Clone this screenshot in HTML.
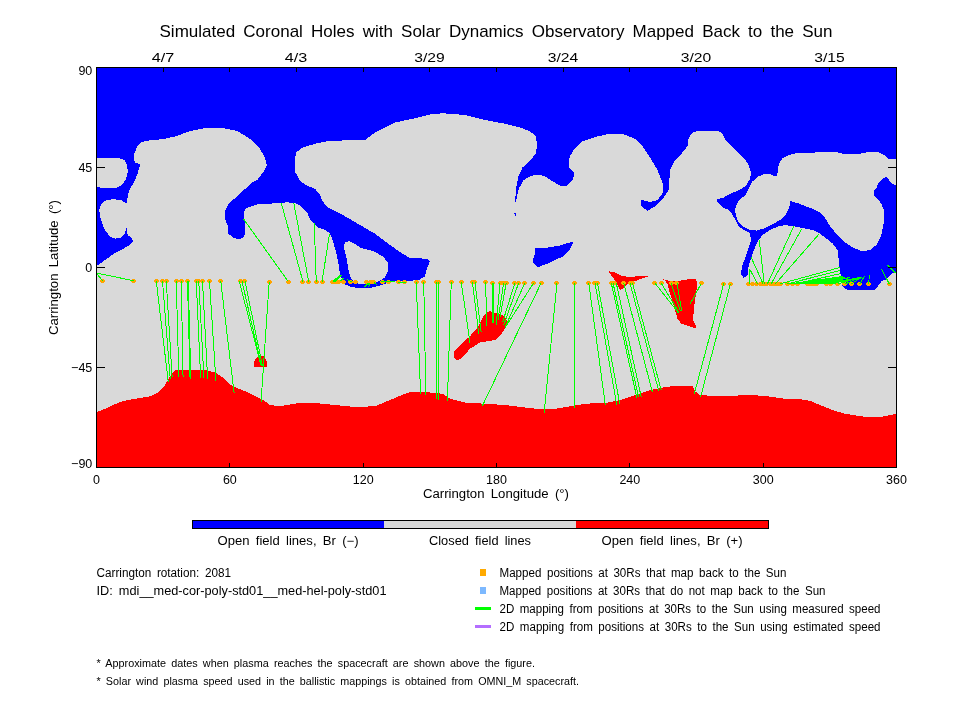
<!DOCTYPE html>
<html><head><meta charset="utf-8"><title>Simulated Coronal Holes</title>
<style>html,body{margin:0;padding:0;background:#fff}svg{display:block}text{font-family:"Liberation Sans",sans-serif;fill:#000}</style></head><body>
<svg width="960" height="720" viewBox="0 0 960 720">
<rect width="960" height="720" fill="#fff"/>
<defs><clipPath id="c"><rect x="96" y="67" width="801" height="401"/></clipPath></defs>
<rect x="96" y="67" width="801" height="401" fill="#d9d9d9"/>
<g clip-path="url(#c)" shape-rendering="crispEdges">
<polygon fill="#0000ff" points="96,67 897,67 897,272 891.7,273.75 889,276.5 885.8,279.5 881.7,281 878,286 875,289.5 860,290 847.5,290 842.5,286.25 842,280 840,272.5 838.75,260 837.5,250 832.5,243.5 825,237.5 820,233.75 812.5,230 802.5,228.1 795,226.5 788.75,225.6 786.25,224.75 778.75,226.25 770,230 762.5,235 758.75,240 756.25,244 752.5,253.75 748.75,265 747.5,275 743.75,278 740.75,273.75 742.5,265 746.25,255 750,244 751.25,240 749.4,232.5 743.75,230 738.75,226.25 735,219.4 731.9,213.75 728.1,209.4 723.75,208.1 720,205 716.9,201.25 717.5,199.4 723.75,197.5 728.75,194.4 735,191.9 741.25,188.75 746.25,185.6 750,178.75 751,172.5 748.75,165 745,159.4 735.6,150 732.5,147 726.25,141.25 722.5,133.75 717.5,130.5 700,130.5 692.5,132.5 688.75,137.5 687.5,146.25 682.5,152.5 675,160 670,170 668.75,190 663.75,197.5 655,206.25 647.5,210.75 641.25,206.25 640.75,199.5 650,202 657.5,200 663,192.5 662.5,182.5 657.5,170 650,157.5 642.5,146.25 635,138.75 623.75,134.25 607.5,134.25 595,137 582.5,141.25 573.75,150 570,156.25 569,160 569,168 574,172 574,176 573,179 570,182.5 566.25,186.25 560,185.75 552.5,181.25 545,176.25 537.5,174.5 530,176.25 523.75,180 518.75,188.75 516.25,200 515,203 515,202.5 516.25,187.5 518.75,175 522.5,167.5 530,161 535.5,153.75 537.5,145 535.5,136 530,131.25 520,127.5 505,123.75 485,120 465,115 442.5,113.25 430,114.5 412.5,118.75 395,122.5 375,132.5 365,140 330,140.75 315,143.75 302.5,147.5 296,152.5 295,160 295.5,172.5 300,181 307.5,186 315,188.75 320,195 322.5,201 326,206 330,208.75 345,216.25 360,225 375,233.75 390,245 402.5,253.75 410,258 427.5,258.75 430,261.25 426.9,268.75 425,276.25 418.75,280 407.5,281 395,281.5 385,283.75 377.5,286.25 370,288.1 361.25,288.5 351.25,286.9 345,284.4 343,280 340,275 338.75,265 336.25,252.5 332.5,240 330,233.5 324.75,230 318.5,227.5 313.5,223.1 309.75,218.75 307.25,212.5 301,206.25 296,203.5 287.25,202.25 278.5,203.1 268.5,203.75 257.25,204.4 252.25,206.25 246,208.1 243.75,212.5 243.75,218.75 245.4,222.5 245.4,232.5 243.5,237.5 239.1,239.4 233.5,237.5 228.5,233.75 227.9,226.25 225.4,220 225.4,210 228.5,203.75 232.25,200.6 237.25,196.25 242.25,191.25 248.5,186.25 252.25,182.5 257.25,180 261,175 264.75,170 266.75,165 265,157.5 260,149 250,139 237.5,131 222.5,128 205,128 190,131 176,136.3 162.7,139.2 146,140.8 141,142.5 137.7,145.8 134.3,153.3 133.5,158.3 135.2,162.5 140.2,164.2 137.7,173.3 133.5,183.3 129.3,190 127.7,196.7 126.8,201.7 126.8,228.3 127.7,235 131.8,238.3 133,240.8 131,244.2 122.7,249.2 115,253 105,260 96,266.5"/>
<polygon fill="#0000ff" points="535.25,247.6 547,247.6 559.7,245.5 567.8,243.1 573.5,241.2 570.5,248.5 566,253.5 562.4,256.7 548.8,263 538,267.2 532.5,261.7 535.25,253"/>
<polygon fill="#0000ff" points="514.3,213.2 516.5,213.2 515.6,215.5 515,215.5"/>
<polygon fill="#d9d9d9" points="96,157.5 117.7,157.5 124.3,160 127.3,165 127.7,171.7 126,179.2 121.8,185 116,188.3 104.3,188 96,187"/>
<polygon fill="#d9d9d9" points="101,205 104.3,200.8 112.7,199.2 121,200 126,203.3 129,203.3 129,229 126.5,228.3 124.3,234.2 121,237.5 115.2,238.7 110.2,236.7 106,231.7 102.7,225 100.2,216.7 99.3,210"/>
<polygon fill="#d9d9d9" points="343.75,246.25 345,242.5 348.75,241 353.75,243.1 361.25,248.1 373.75,251.25 382.5,256.25 388.1,262.5 388.5,270 385,277.5 380,280.6 372,283.5 361.25,284.4 356.25,283 351.25,278.75 348.75,271.25 346.9,260 345,252.5"/>
<polygon fill="#d9d9d9" points="897,159.25 889,159 886,156.2 882.5,154.4 879,152.25 867.6,152.25 858.9,153.8 844,154 836.5,152.25 825,151.9 815,152.5 795,153.5 788.75,155 782.5,158.1 780,161.9 778.1,166.9 777.25,175.6 773.1,175.6 771.25,174.4 763.75,174.4 758.75,176.25 755,179.4 751.9,181.9 750,186.25 747.5,191.25 745,195.6 740,199.4 736.9,203.75 735.25,208.75 735.6,215 738.1,221.25 742.5,226.25 748.75,229.4 756.25,230.6 763.75,228.5 772.5,224.4 780,220 785,215.6 788.1,210 790,205 790.25,201 797.5,203.1 805,206 812.5,208.75 818.75,211.9 823.1,215 825,218 830,226.25 837.5,235 845,242.5 852.5,247.5 862.5,251.25 870,250 876.25,245 881.25,235 883.75,222.5 883.75,210 881.5,204 878.5,200 877.25,198.2 874.2,196 874.2,190.3 876.4,188.1 879,182 883.4,177.8 886.7,177.2 891.25,182.9 897,186.2"/>
<polygon fill="#ff0000" points="96,412.5 105,408.75 120,402 127.5,400 150,396.25 157.5,392.5 165,385 170,376.25 175,370 190,369.5 205,370 215,372.5 222.5,377.5 232.5,386.25 245,391.25 255,396.25 265,401.25 270,405 280,406.25 290,404.5 302.5,402.5 317.5,402.5 320,403.75 330,404.5 355,407 375,406.25 390,400 405,393.75 410,392 430,392.5 442.5,393.75 450,398.75 465,402.5 485,403.75 505,405 525,407.5 542.5,409.5 555,408.75 570,406.25 585,403.75 607.5,402.5 620,400 635,395 650,390 665,387 677.5,385.75 692.5,386.25 695,391.25 700,395 720,396.5 732.5,395.75 750,395 765,396 782.5,398.5 800,399.25 810,400.75 820,405 832.5,410 845,413.75 860,416.25 875,417.5 885,416.25 896,413.75 897,469 96,469"/>
<polygon fill="#ff0000" points="253.8,367 253.8,363 255,359.5 257.5,356.8 260.5,355.3 263.5,356 265.5,358.5 266.8,362 267,367"/>
<polygon fill="#ff0000" points="490,311.25 502.5,315 508,321.25 507,325 502.5,332.5 495,340 480,342.5 470,348.75 462.5,357.5 457.5,360.5 454.25,357.5 454.25,351.25 460,345 470,336.25 477.5,327.5 482.5,317.5 486.25,312.5"/>
<polygon fill="#ff0000" points="608.75,271.25 615,272.5 621.25,275.6 627.5,276.9 640,276.25 650,276 641.25,278.75 635,281.25 627.5,284.5 623.75,288.1 620,290 617.5,285 613.75,278.75 610,273.75"/>
<polygon fill="#ff0000" points="661.9,278.75 668.1,280.6 674,281.5 680,280.6 687.5,279.4 696.25,279 697.25,285 695.6,296.25 693.75,310 693.1,320 695.6,325 696,328.5 687.5,325.6 681.25,323.75 677.5,318.75 675.6,312.5 672.5,301.25 669.4,291.25 667.5,283.75 665,280.6"/>
</g>
<g fill="#ffa500" shape-rendering="crispEdges">
<path d="M101 279h3v1h1v2h-1v1h-3v-1h-1v-2h1z"/>
<path d="M132 279h3v1h1v2h-1v1h-3v-1h-1v-2h1z"/>
<path d="M155 279h3v1h1v2h-1v1h-3v-1h-1v-2h1z"/>
<path d="M161 279h3v1h1v2h-1v1h-3v-1h-1v-2h1z"/>
<path d="M165 279h3v1h1v2h-1v1h-3v-1h-1v-2h1z"/>
<path d="M175 279h3v1h1v2h-1v1h-3v-1h-1v-2h1z"/>
<path d="M180 279h3v1h1v2h-1v1h-3v-1h-1v-2h1z"/>
<path d="M186 279h3v1h1v2h-1v1h-3v-1h-1v-2h1z"/>
<path d="M195 279h3v1h1v2h-1v1h-3v-1h-1v-2h1z"/>
<path d="M197 279h3v1h1v2h-1v1h-3v-1h-1v-2h1z"/>
<path d="M201 279h3v1h1v2h-1v1h-3v-1h-1v-2h1z"/>
<path d="M208 279h3v1h1v2h-1v1h-3v-1h-1v-2h1z"/>
<path d="M219 279h3v1h1v2h-1v1h-3v-1h-1v-2h1z"/>
<path d="M239 279h3v1h1v2h-1v1h-3v-1h-1v-2h1z"/>
<path d="M243 279h3v1h1v2h-1v1h-3v-1h-1v-2h1z"/>
<path d="M268 280h3v1h1v2h-1v1h-3v-1h-1v-2h1z"/>
<path d="M287 280h3v1h1v2h-1v1h-3v-1h-1v-2h1z"/>
<path d="M301 280h3v1h1v2h-1v1h-3v-1h-1v-2h1z"/>
<path d="M307 280h3v1h1v2h-1v1h-3v-1h-1v-2h1z"/>
<path d="M315 280h3v1h1v2h-1v1h-3v-1h-1v-2h1z"/>
<path d="M321 280h3v1h1v2h-1v1h-3v-1h-1v-2h1z"/>
<path d="M331 280h3v1h1v2h-1v1h-3v-1h-1v-2h1z"/>
<path d="M334 280h3v1h1v2h-1v1h-3v-1h-1v-2h1z"/>
<path d="M337 280h3v1h1v2h-1v1h-3v-1h-1v-2h1z"/>
<path d="M342 280h3v1h1v2h-1v1h-3v-1h-1v-2h1z"/>
<path d="M349 280h3v1h1v2h-1v1h-3v-1h-1v-2h1z"/>
<path d="M354 280h3v1h1v2h-1v1h-3v-1h-1v-2h1z"/>
<path d="M365 280h3v1h1v2h-1v1h-3v-1h-1v-2h1z"/>
<path d="M369 280h3v1h1v2h-1v1h-3v-1h-1v-2h1z"/>
<path d="M372 280h3v1h1v2h-1v1h-3v-1h-1v-2h1z"/>
<path d="M381 280h3v1h1v2h-1v1h-3v-1h-1v-2h1z"/>
<path d="M387 280h3v1h1v2h-1v1h-3v-1h-1v-2h1z"/>
<path d="M397 280h3v1h1v2h-1v1h-3v-1h-1v-2h1z"/>
<path d="M403 280h3v1h1v2h-1v1h-3v-1h-1v-2h1z"/>
<path d="M415 280h3v1h1v2h-1v1h-3v-1h-1v-2h1z"/>
<path d="M422 280h3v1h1v2h-1v1h-3v-1h-1v-2h1z"/>
<path d="M435 280h3v1h1v2h-1v1h-3v-1h-1v-2h1z"/>
<path d="M437 280h3v1h1v2h-1v1h-3v-1h-1v-2h1z"/>
<path d="M450 280h3v1h1v2h-1v1h-3v-1h-1v-2h1z"/>
<path d="M460 280h3v1h1v2h-1v1h-3v-1h-1v-2h1z"/>
<path d="M471 280h3v1h1v2h-1v1h-3v-1h-1v-2h1z"/>
<path d="M473 280h3v1h1v2h-1v1h-3v-1h-1v-2h1z"/>
<path d="M484 280h3v1h1v2h-1v1h-3v-1h-1v-2h1z"/>
<path d="M491 281h3v1h1v2h-1v1h-3v-1h-1v-2h1z"/>
<path d="M499 281h3v1h1v2h-1v1h-3v-1h-1v-2h1z"/>
<path d="M502 281h3v1h1v2h-1v1h-3v-1h-1v-2h1z"/>
<path d="M505 281h3v1h1v2h-1v1h-3v-1h-1v-2h1z"/>
<path d="M513 281h3v1h1v2h-1v1h-3v-1h-1v-2h1z"/>
<path d="M517 281h3v1h1v2h-1v1h-3v-1h-1v-2h1z"/>
<path d="M523 281h3v1h1v2h-1v1h-3v-1h-1v-2h1z"/>
<path d="M532 281h3v1h1v2h-1v1h-3v-1h-1v-2h1z"/>
<path d="M540 281h3v1h1v2h-1v1h-3v-1h-1v-2h1z"/>
<path d="M555 281h3v1h1v2h-1v1h-3v-1h-1v-2h1z"/>
<path d="M573 281h3v1h1v2h-1v1h-3v-1h-1v-2h1z"/>
<path d="M587 281h3v1h1v2h-1v1h-3v-1h-1v-2h1z"/>
<path d="M593 281h3v1h1v2h-1v1h-3v-1h-1v-2h1z"/>
<path d="M596 281h3v1h1v2h-1v1h-3v-1h-1v-2h1z"/>
<path d="M610 281h3v1h1v2h-1v1h-3v-1h-1v-2h1z"/>
<path d="M613 281h3v1h1v2h-1v1h-3v-1h-1v-2h1z"/>
<path d="M622 281h3v1h1v2h-1v1h-3v-1h-1v-2h1z"/>
<path d="M629 281h3v1h1v2h-1v1h-3v-1h-1v-2h1z"/>
<path d="M631 281h3v1h1v2h-1v1h-3v-1h-1v-2h1z"/>
<path d="M653 281h3v1h1v2h-1v1h-3v-1h-1v-2h1z"/>
<path d="M660 281h3v1h1v2h-1v1h-3v-1h-1v-2h1z"/>
<path d="M670 281h3v1h1v2h-1v1h-3v-1h-1v-2h1z"/>
<path d="M675 281h3v1h1v2h-1v1h-3v-1h-1v-2h1z"/>
<path d="M700 281h3v1h1v2h-1v1h-3v-1h-1v-2h1z"/>
<path d="M722 282h3v1h1v2h-1v1h-3v-1h-1v-2h1z"/>
<path d="M729 282h3v1h1v2h-1v1h-3v-1h-1v-2h1z"/>
<path d="M747 282h3v1h1v2h-1v1h-3v-1h-1v-2h1z"/>
<path d="M755 282h3v1h1v2h-1v1h-3v-1h-1v-2h1z"/>
<path d="M762 282h3v1h1v2h-1v1h-3v-1h-1v-2h1z"/>
<path d="M769 282h3v1h1v2h-1v1h-3v-1h-1v-2h1z"/>
<path d="M773 282h3v1h1v2h-1v1h-3v-1h-1v-2h1z"/>
<path d="M779 282h3v1h1v2h-1v1h-3v-1h-1v-2h1z"/>
<path d="M786 282h3v1h1v2h-1v1h-3v-1h-1v-2h1z"/>
<path d="M791 282h3v1h1v2h-1v1h-3v-1h-1v-2h1z"/>
<path d="M796 282h3v1h1v2h-1v1h-3v-1h-1v-2h1z"/>
<path d="M806 282h3v1h1v2h-1v1h-3v-1h-1v-2h1z"/>
<path d="M812 282h3v1h1v2h-1v1h-3v-1h-1v-2h1z"/>
<path d="M815 282h3v1h1v2h-1v1h-3v-1h-1v-2h1z"/>
<path d="M825 282h3v1h1v2h-1v1h-3v-1h-1v-2h1z"/>
<path d="M829 282h3v1h1v2h-1v1h-3v-1h-1v-2h1z"/>
<path d="M836 282h3v1h1v2h-1v1h-3v-1h-1v-2h1z"/>
<path d="M843 282h3v1h1v2h-1v1h-3v-1h-1v-2h1z"/>
<path d="M850 282h3v1h1v2h-1v1h-3v-1h-1v-2h1z"/>
<path d="M858 282h3v1h1v2h-1v1h-3v-1h-1v-2h1z"/>
<path d="M867 282h3v1h1v2h-1v1h-3v-1h-1v-2h1z"/>
<path d="M888 282h3v1h1v2h-1v1h-3v-1h-1v-2h1z"/>
<path d="M751 282h3v1h1v2h-1v1h-3v-1h-1v-2h1z"/>
<path d="M759 282h3v1h1v2h-1v1h-3v-1h-1v-2h1z"/>
<path d="M765 282h3v1h1v2h-1v1h-3v-1h-1v-2h1z"/>
<path d="M771 282h3v1h1v2h-1v1h-3v-1h-1v-2h1z"/>
<path d="M776 282h3v1h1v2h-1v1h-3v-1h-1v-2h1z"/>
<path d="M809 282h3v1h1v2h-1v1h-3v-1h-1v-2h1z"/>
</g>
<g clip-path="url(#c)" stroke="#00ff00" stroke-width="1" fill="none" shape-rendering="crispEdges">
<line x1="96.25" y1="273" x2="133.75" y2="280.75"/>
<line x1="96.25" y1="273" x2="102.5" y2="280.75"/>
<line x1="243.75" y1="219.25" x2="288.25" y2="281.592"/>
<line x1="281.25" y1="203" x2="303" y2="281.659"/>
<line x1="293.75" y1="203" x2="308.75" y2="281.684"/>
<line x1="314.25" y1="223" x2="316.25" y2="281.718"/>
<line x1="329.5" y1="233.75" x2="322" y2="281.744"/>
<line x1="156.25" y1="280.998" x2="168.355" y2="382.479"/>
<line x1="162.5" y1="281.026" x2="170.236" y2="379.241"/>
<line x1="166.25" y1="281.043" x2="172.184" y2="377.494"/>
<line x1="176.25" y1="281.088" x2="178.831" y2="376.749"/>
<line x1="181.25" y1="281.111" x2="183.057" y2="376.749"/>
<line x1="187.5" y1="281.139" x2="190.079" y2="379.249"/>
<line x1="188.25" y1="281.142" x2="190.829" y2="379.249"/>
<line x1="196.25" y1="281.178" x2="200.636" y2="377.997"/>
<line x1="198.75" y1="281.189" x2="203.91" y2="377.996"/>
<line x1="202.5" y1="281.206" x2="207.658" y2="379.246"/>
<line x1="209.5" y1="281.238" x2="215.943" y2="380.994"/>
<line x1="220.75" y1="281.288" x2="234.106" y2="392.979"/>
<line x1="239.25" y1="281.372" x2="261.25" y2="366.25"/>
<line x1="242" y1="281.384" x2="261.5" y2="366.25"/>
<line x1="245" y1="281.397" x2="262.5" y2="366.25"/>
<line x1="269.25" y1="281.507" x2="261.046" y2="401.743"/>
<line x1="416.25" y1="282.168" x2="420.617" y2="394.248"/>
<line x1="423.75" y1="282.202" x2="425.805" y2="395"/>
<line x1="436.25" y1="282.258" x2="436.25" y2="399.25"/>
<line x1="438.75" y1="282.269" x2="438.75" y2="400"/>
<line x1="451.25" y1="282.326" x2="447.403" y2="400.998"/>
<line x1="461.25" y1="282.371" x2="470" y2="342.5"/>
<line x1="472.5" y1="282.421" x2="478.75" y2="333.75"/>
<line x1="475" y1="282.433" x2="481.25" y2="332.5"/>
<line x1="485.5" y1="282.48" x2="487" y2="326"/>
<line x1="492.5" y1="282.511" x2="492" y2="325"/>
<line x1="493.5" y1="282.516" x2="493" y2="325"/>
<line x1="500" y1="282.545" x2="496.25" y2="325"/>
<line x1="503.75" y1="282.562" x2="498" y2="320"/>
<line x1="506.25" y1="282.573" x2="500" y2="317.5"/>
<line x1="515" y1="282.612" x2="502.5" y2="322.5"/>
<line x1="518.75" y1="282.629" x2="503.75" y2="325"/>
<line x1="525" y1="282.657" x2="505" y2="327.5"/>
<line x1="533.75" y1="282.697" x2="506.25" y2="326"/>
<line x1="541.25" y1="282.731" x2="482.456" y2="405.707"/>
<line x1="557" y1="282.801" x2="544.205" y2="412.486"/>
<line x1="574.5" y1="282.88" x2="574.5" y2="408"/>
<line x1="588.75" y1="282.944" x2="605.404" y2="405.473"/>
<line x1="595" y1="282.972" x2="616.777" y2="404.953"/>
<line x1="597.5" y1="282.984" x2="619.793" y2="404.201"/>
<line x1="611.25" y1="283.046" x2="636.904" y2="397.928"/>
<line x1="613" y1="283.053" x2="638.657" y2="397.427"/>
<line x1="616.25" y1="283.068" x2="641.142" y2="396.68"/>
<line x1="623.75" y1="283.102" x2="652.513" y2="392.401"/>
<line x1="630" y1="283.13" x2="658.774" y2="390.898"/>
<line x1="632.5" y1="283.141" x2="661.277" y2="390.398"/>
<line x1="655" y1="283.242" x2="678.1" y2="312.5"/>
<line x1="661.25" y1="283.271" x2="679" y2="312.5"/>
<line x1="671.25" y1="283.316" x2="680.5" y2="311.5"/>
<line x1="677" y1="283.341" x2="681.75" y2="311"/>
<line x1="701.25" y1="283.451" x2="690" y2="304.25"/>
<line x1="723.75" y1="283.552" x2="694.226" y2="394.149"/>
<line x1="730.5" y1="283.582" x2="700.485" y2="397.401"/>
<line x1="749.5" y1="268.75" x2="749.5" y2="283.668"/>
<line x1="749.5" y1="268.75" x2="757.5" y2="283.704"/>
<line x1="751.25" y1="257.5" x2="763" y2="283.728"/>
<line x1="759.25" y1="240" x2="764.25" y2="283.734"/>
<line x1="793.75" y1="226.25" x2="767.5" y2="283.749"/>
<line x1="801.75" y1="228.75" x2="771.25" y2="283.766"/>
<line x1="819.25" y1="233.75" x2="775.5" y2="283.785"/>
<line x1="840" y1="267.5" x2="780" y2="283.805"/>
<line x1="840" y1="270.5" x2="787.5" y2="283.839"/>
<line x1="840" y1="273.75" x2="795" y2="283.873"/>
<line x1="842.5" y1="276.25" x2="807.5" y2="283.929"/>
<line x1="845" y1="277" x2="813" y2="283.953"/>
<line x1="850" y1="277.5" x2="818" y2="283.976"/>
<line x1="860" y1="277.5" x2="825" y2="284.007"/>
<line x1="860" y1="277.5" x2="830" y2="284.03"/>
<line x1="860" y1="277.5" x2="837.5" y2="284.064"/>
<line x1="860" y1="277.5" x2="845" y2="284.097"/>
<line x1="862" y1="277" x2="851" y2="284.124"/>
<line x1="864.5" y1="276.25" x2="859.5" y2="284.163"/>
<line x1="869.25" y1="275" x2="868.75" y2="284.204"/>
<line x1="881.25" y1="268.75" x2="889.5" y2="284.298"/>
<line x1="887.5" y1="265" x2="896.5" y2="273.75"/>
<line x1="842.5" y1="276.5" x2="790" y2="283.85"/>
<line x1="842.5" y1="276.818" x2="794" y2="283.868"/>
<line x1="842.5" y1="277.136" x2="798" y2="283.886"/>
<line x1="842.5" y1="277.455" x2="802" y2="283.904"/>
<line x1="842.5" y1="277.773" x2="806" y2="283.922"/>
<line x1="842.5" y1="278.091" x2="810" y2="283.94"/>
<line x1="842.5" y1="278.409" x2="814" y2="283.958"/>
<line x1="842.5" y1="278.727" x2="818" y2="283.976"/>
<line x1="842.5" y1="279.045" x2="822" y2="283.994"/>
<line x1="842.5" y1="279.364" x2="826" y2="284.012"/>
<line x1="842.5" y1="279.682" x2="830" y2="284.03"/>
<line x1="842.5" y1="280" x2="834" y2="284.048"/>
<line x1="333" y1="281.5" x2="340.5" y2="274.5"/>
<line x1="334" y1="281.5" x2="341.5" y2="274.5"/>
<line x1="335" y1="281.5" x2="342.5" y2="274.5"/>
<line x1="340.5" y1="281" x2="343.75" y2="278"/>
<line x1="347" y1="279.5" x2="351.5" y2="282"/>
<line x1="363.75" y1="287" x2="369.4" y2="282.5"/>
<line x1="364.75" y1="287" x2="370.4" y2="282.5"/>
<line x1="368.5" y1="287.5" x2="370" y2="283"/>
<line x1="373.75" y1="282.5" x2="377" y2="285"/>
<line x1="381" y1="282" x2="395" y2="281.2"/>
<line x1="397.5" y1="282.5" x2="406" y2="282.5"/>
</g>
<g stroke="#000" stroke-width="1" fill="none" shape-rendering="crispEdges">
<rect x="96.5" y="67.5" width="800" height="400"/>
<line x1="163.17" y1="67.5" x2="163.17" y2="71.5"/>
<line x1="229.83" y1="67.5" x2="229.83" y2="71.5"/>
<line x1="296.50" y1="67.5" x2="296.50" y2="71.5"/>
<line x1="363.17" y1="67.5" x2="363.17" y2="71.5"/>
<line x1="429.83" y1="67.5" x2="429.83" y2="71.5"/>
<line x1="496.50" y1="67.5" x2="496.50" y2="71.5"/>
<line x1="563.17" y1="67.5" x2="563.17" y2="71.5"/>
<line x1="629.83" y1="67.5" x2="629.83" y2="71.5"/>
<line x1="696.50" y1="67.5" x2="696.50" y2="71.5"/>
<line x1="763.17" y1="67.5" x2="763.17" y2="71.5"/>
<line x1="829.83" y1="67.5" x2="829.83" y2="71.5"/>
<line x1="229.83" y1="467.5" x2="229.83" y2="462.5"/>
<line x1="363.17" y1="467.5" x2="363.17" y2="462.5"/>
<line x1="496.50" y1="467.5" x2="496.50" y2="462.5"/>
<line x1="629.83" y1="467.5" x2="629.83" y2="462.5"/>
<line x1="763.17" y1="467.5" x2="763.17" y2="462.5"/>
<line x1="96.5" y1="167.50" x2="105" y2="167.50"/>
<line x1="896.5" y1="167.50" x2="888" y2="167.50"/>
<line x1="96.5" y1="267.50" x2="105" y2="267.50"/>
<line x1="896.5" y1="267.50" x2="888" y2="267.50"/>
<line x1="96.5" y1="367.50" x2="105" y2="367.50"/>
<line x1="896.5" y1="367.50" x2="888" y2="367.50"/>
</g>
<text x="496" y="37" font-size="17" word-spacing="3.40" text-anchor="middle" textLength="673" lengthAdjust="spacingAndGlyphs">Simulated Coronal Holes with Solar Dynamics Observatory Mapped Back to the Sun</text>
<text x="163" y="62" font-size="12.5" word-spacing="2.50" text-anchor="middle" textLength="22.5" lengthAdjust="spacingAndGlyphs">4/7</text>
<text x="296" y="62" font-size="12.5" word-spacing="2.50" text-anchor="middle" textLength="22.5" lengthAdjust="spacingAndGlyphs">4/3</text>
<text x="429.5" y="62" font-size="12.5" word-spacing="2.50" text-anchor="middle" textLength="30.5" lengthAdjust="spacingAndGlyphs">3/29</text>
<text x="563" y="62" font-size="12.5" word-spacing="2.50" text-anchor="middle" textLength="30.5" lengthAdjust="spacingAndGlyphs">3/24</text>
<text x="696" y="62" font-size="12.5" word-spacing="2.50" text-anchor="middle" textLength="30.5" lengthAdjust="spacingAndGlyphs">3/20</text>
<text x="829.5" y="62" font-size="12.5" word-spacing="2.50" text-anchor="middle" textLength="30.5" lengthAdjust="spacingAndGlyphs">3/15</text>
<text x="92.3" y="75" font-size="12.5" word-spacing="2.50" text-anchor="end">90</text>
<text x="92.3" y="172" font-size="12.5" word-spacing="2.50" text-anchor="end">45</text>
<text x="92.3" y="272" font-size="12.5" word-spacing="2.50" text-anchor="end">0</text>
<text x="92.3" y="372" font-size="12.5" word-spacing="2.50" text-anchor="end">−45</text>
<text x="92.3" y="468" font-size="12.5" word-spacing="2.50" text-anchor="end">−90</text>
<text x="96.5" y="484" font-size="12.5" word-spacing="2.50" text-anchor="middle">0</text>
<text x="229.833" y="484" font-size="12.5" word-spacing="2.50" text-anchor="middle">60</text>
<text x="363.167" y="484" font-size="12.5" word-spacing="2.50" text-anchor="middle">120</text>
<text x="496.5" y="484" font-size="12.5" word-spacing="2.50" text-anchor="middle">180</text>
<text x="629.833" y="484" font-size="12.5" word-spacing="2.50" text-anchor="middle">240</text>
<text x="763.167" y="484" font-size="12.5" word-spacing="2.50" text-anchor="middle">300</text>
<text x="896.5" y="484" font-size="12.5" word-spacing="2.50" text-anchor="middle">360</text>
<text x="496" y="498" font-size="12" word-spacing="2.40" text-anchor="middle" textLength="146" lengthAdjust="spacingAndGlyphs">Carrington Longitude (°)</text>
<text font-size="12" word-spacing="2.4" text-anchor="middle" transform="translate(58,267.5) rotate(-90)" textLength="135" lengthAdjust="spacingAndGlyphs">Carrington Latitude (°)</text>
<g shape-rendering="crispEdges"><rect x="192" y="521" width="192" height="8" fill="#0000ff"/><rect x="384" y="521" width="192" height="8" fill="#d9d9d9"/><rect x="576" y="521" width="192" height="8" fill="#ff0000"/><rect x="192.5" y="520.5" width="576" height="8" fill="none" stroke="#000"/></g>
<text x="288" y="545" font-size="12" word-spacing="2.40" text-anchor="middle" textLength="141" lengthAdjust="spacingAndGlyphs">Open field lines, Br (−)</text>
<text x="480" y="545" font-size="12" word-spacing="2.40" text-anchor="middle" textLength="102" lengthAdjust="spacingAndGlyphs">Closed field lines</text>
<text x="672" y="545" font-size="12" word-spacing="2.40" text-anchor="middle" textLength="141" lengthAdjust="spacingAndGlyphs">Open field lines, Br (+)</text>
<text x="96.5" y="576.5" font-size="12" word-spacing="2.40" text-anchor="start" textLength="134.5" lengthAdjust="spacingAndGlyphs">Carrington rotation: 2081</text>
<text x="96.5" y="594.5" font-size="12" word-spacing="2.40" text-anchor="start" textLength="290" lengthAdjust="spacingAndGlyphs">ID: mdi__med-cor-poly-std01__med-hel-poly-std01</text>
<text x="96.5" y="666.5" font-size="10" word-spacing="2.00" text-anchor="start" textLength="438.5" lengthAdjust="spacingAndGlyphs">* Approximate dates when plasma reaches the spacecraft are shown above the figure.</text>
<text x="96.5" y="684.5" font-size="10" word-spacing="2.00" text-anchor="start" textLength="482.5" lengthAdjust="spacingAndGlyphs">* Solar wind plasma speed used in the ballistic mappings is obtained from OMNI_M spacecraft.</text>
<rect x="480" y="569" width="6" height="7" fill="#ffaa00"/>
<rect x="480" y="587" width="6" height="7" fill="#7db9ff"/>
<rect x="475" y="607" width="16" height="3" fill="#00ff00"/>
<rect x="475" y="625" width="16" height="3" fill="#b46eff"/>
<text x="499.5" y="576.5" font-size="12" word-spacing="2.40" text-anchor="start" textLength="287" lengthAdjust="spacingAndGlyphs">Mapped positions at 30Rs that map back to the Sun</text>
<text x="499.5" y="594.5" font-size="12" word-spacing="2.40" text-anchor="start" textLength="326" lengthAdjust="spacingAndGlyphs">Mapped positions at 30Rs that do not map back to the Sun</text>
<text x="499.5" y="612.5" font-size="12" word-spacing="2.40" text-anchor="start" textLength="381" lengthAdjust="spacingAndGlyphs">2D mapping from positions at 30Rs to the Sun using measured speed</text>
<text x="499.5" y="630.5" font-size="12" word-spacing="2.40" text-anchor="start" textLength="381" lengthAdjust="spacingAndGlyphs">2D mapping from positions at 30Rs to the Sun using estimated speed</text>
</svg></body></html>
